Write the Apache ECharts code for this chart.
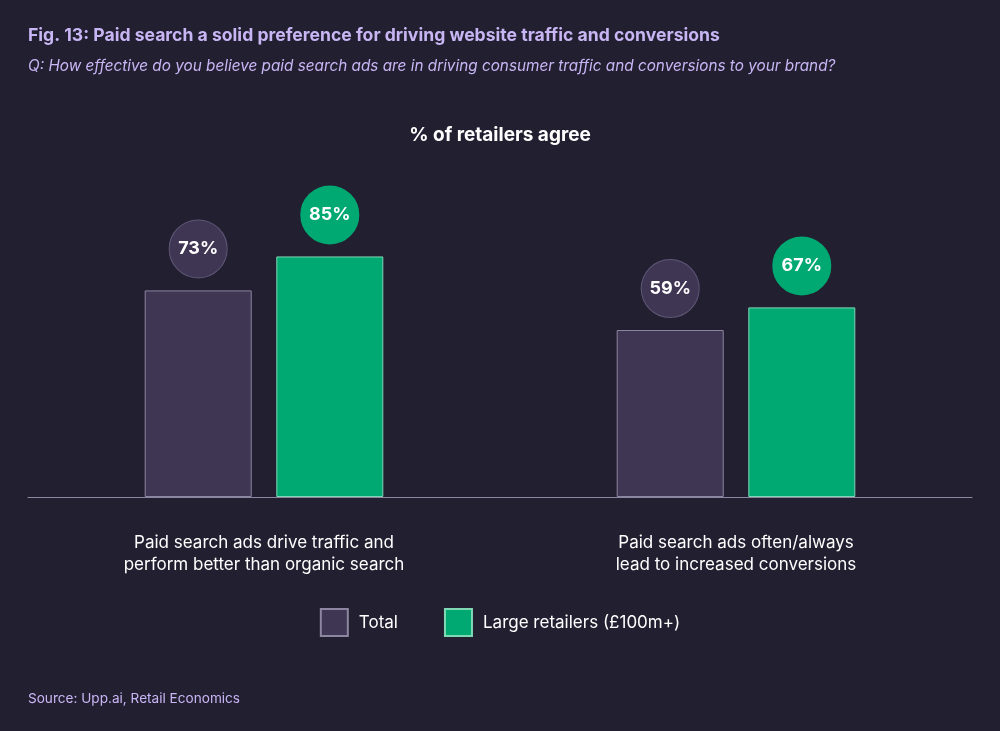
<!DOCTYPE html>
<html><head><meta charset="utf-8">
<script src="https://cdn.jsdelivr.net/npm/echarts@6/dist/echarts.min.js"></script>
<style>html,body{margin:0;padding:0;background:#221f31;}#c{width:1000px;height:731px;}</style>
</head><body><div id="c"></div>
<script>
const categories = ['Paid search ads drive traffic and\nperform better than organic search', 'Paid search ads often/always\nlead to increased conversions'];
const seriesNames = ['Total', 'Large retailers (£100m+)'];
const totalValues = [73, 59];
const largeValues = [85, 67];

const purple = '#3f3653', purpleBorder = '#8d86a0';
const green = '#00a971', greenBorder = '#7fd8b4';
const lav = '#c8b6f4';

function bubble(bg, border) {
  return {
    show: true, position: 'top', distance: 13,
    formatter: '{c}%',
    color: '#ffffff', fontFamily: 'Inter', fontWeight: 'bold', fontSize: 18,
    backgroundColor: bg, borderColor: border, borderWidth: 1,
    width: 57, height: 57, lineHeight: 57, borderRadius: 28.5, align: 'center', padding: 0
  };
}

const chart = echarts.init(document.getElementById('c'));
chart.setOption({
  backgroundColor: '#221f31',
  title: [
    { text: 'Fig. 13: Paid search a solid preference for driving website traffic and conversions', left: 28, top: 27, padding: 0,
      textStyle: { color: lav, fontFamily: 'Inter', fontWeight: 'bold', fontSize: 17.6 } },
    { text: 'Q: How effective do you believe paid search ads are in driving consumer traffic and conversions to your brand?', left: 28, top: 59, padding: 0,
      textStyle: { color: lav, fontFamily: 'Inter', fontStyle: 'italic', fontWeight: 'normal', fontSize: 15.3 } },
    { text: '% of retailers agree', left: 'center', top: 121,
      textStyle: { color: '#ffffff', fontFamily: 'Inter', fontWeight: 'bold', fontSize: 19 } },
    { text: 'Source: Upp.ai, Retail Economics', left: 28, top: 692, padding: 0,
      textStyle: { color: lav, fontFamily: 'Inter', fontWeight: 'normal', fontSize: 13.6 } }
  ],
  legend: {
    bottom: 89, left: 'center', itemWidth: 27, itemHeight: 27, itemGap: 46,
    icon: 'rect',
    textStyle: { color: '#ffffff', fontFamily: 'Inter', fontSize: 17, padding: [0, 0, 0, 6] },
    data: seriesNames
  },
  grid: { left: 28, right: 28, top: 214, bottom: 234, containLabel: false },
  xAxis: {
    type: 'category', data: categories,
    axisLine: { lineStyle: { color: '#8d86a0', width: 1 } },
    axisTick: { show: false },
    axisLabel: { color: '#ffffff', fontFamily: 'Inter', fontSize: 17, lineHeight: 22, margin: 35 }
  },
  yAxis: { type: 'value', min: 0, max: 100, show: false, splitLine: { show: false } },
  series: [
    { name: seriesNames[0], type: 'bar', data: totalValues, barWidth: 107, barGap: '23%',
      itemStyle: { color: purple, borderColor: purpleBorder, borderWidth: 1 },
      label: bubble(purple, '#5f5676') },
    { name: seriesNames[1], type: 'bar', data: largeValues, barWidth: 107,
      itemStyle: { color: green, borderColor: greenBorder, borderWidth: 1 },
      label: bubble(green, green) }
  ]
});
</script></body></html>
